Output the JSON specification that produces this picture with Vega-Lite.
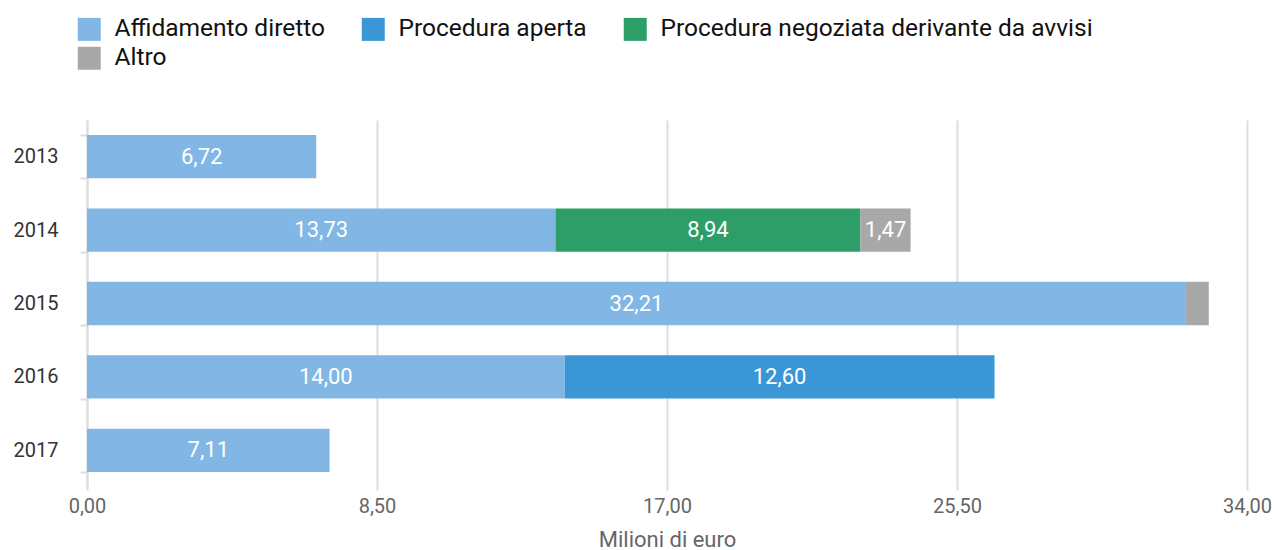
{
  "$schema": "https://vega.github.io/schema/vega-lite/v6.json",
  "width": 1160,
  "height": 367,
  "autosize": "none",
  "padding": {"left": 87, "top": 120, "right": 27, "bottom": 63},
  "background": "white",
  "config": {
    "locale": {"number": {"decimal": ",", "thousands": ".", "grouping": [3], "currency": ["€", ""]}},
    "font": "Roboto",
    "view": {"stroke": null}
  },
  "data": {
    "values": [
      {"anno": "2013", "tipo": "Affidamento diretto", "ordine": 1, "valore": 6.72},
      {"anno": "2014", "tipo": "Affidamento diretto", "ordine": 1, "valore": 13.73},
      {"anno": "2014", "tipo": "Procedura negoziata derivante da avvisi", "ordine": 3, "valore": 8.94},
      {"anno": "2014", "tipo": "Altro", "ordine": 4, "valore": 1.47},
      {"anno": "2015", "tipo": "Affidamento diretto", "ordine": 1, "valore": 32.21},
      {"anno": "2015", "tipo": "Altro", "ordine": 4, "valore": 0.67},
      {"anno": "2016", "tipo": "Affidamento diretto", "ordine": 1, "valore": 14.00},
      {"anno": "2016", "tipo": "Procedura aperta", "ordine": 2, "valore": 12.60},
      {"anno": "2017", "tipo": "Affidamento diretto", "ordine": 1, "valore": 7.11}
    ]
  },
  "encoding": {
    "y": {
      "field": "anno", "type": "nominal", "sort": ["2013", "2014", "2015", "2016", "2017"],
      "scale": {"paddingInner": 0.41, "paddingOuter": 0.205},
      "axis": {
        "title": null, "grid": false, "domainColor": "#dddddd", "domainWidth": 2,
        "tickColor": "#dddddd", "tickWidth": 2, "tickSize": 7, "tickBand": "extent",
        "labelFont": "Roboto", "labelFontSize": 20, "labelFontWeight": "normal", "labelColor": "#333333",
        "labelPadding": 22
      }
    },
    "x": {
      "field": "valore", "type": "quantitative", "stack": "zero",
      "scale": {"domain": [0, 34], "nice": false},
      "axis": {
        "title": "Milioni di euro", "titleFont": "Roboto", "titleFontSize": 22, "titleFontWeight": "normal",
        "titleColor": "#666666", "titlePadding": 13,
        "values": [0, 8.5, 17, 25.5, 34], "format": ".2f", "labelFlush": false,
        "labelFont": "Roboto", "labelFontSize": 20, "labelColor": "#666666", "labelPadding": 6,
        "domain": false, "ticks": true, "tickColor": "#dddddd", "tickWidth": 2, "tickSize": 3,
        "grid": true, "gridColor": "#dddddd", "gridWidth": 2
      }
    },
    "order": {"field": "ordine", "type": "quantitative"}
  },
  "layer": [
    {
      "mark": {"type": "bar"},
      "encoding": {
        "color": {
          "field": "tipo", "type": "nominal",
          "scale": {
            "domain": ["Affidamento diretto", "Procedura aperta", "Procedura negoziata derivante da avvisi", "Altro"],
            "range": ["#82b7e5", "#3a96d5", "#2e9e68", "#a8a8a8"]
          },
          "legend": {
            "title": null, "orient": "none", "legendX": -10, "legendY": -103,
            "direction": "horizontal", "columns": 3, "columnPadding": 36, "rowPadding": 4,
            "symbolType": "square", "symbolSize": 529, "symbolStrokeWidth": 0, "symbolOpacity": 1,
            "labelFont": "Roboto", "labelFontSize": 24.5, "labelColor": "#111111", "labelOffset": 13,
            "labelLimit": 600
          }
        }
      }
    },
    {
      "transform": [{"filter": "datum.valore >= 1"}],
      "mark": {"type": "text", "color": "white", "fontSize": 22, "font": "Roboto", "align": "center", "baseline": "middle"},
      "encoding": {
        "x": {"field": "valore", "type": "quantitative", "stack": "zero", "bandPosition": 0.5},
        "text": {"field": "valore", "type": "quantitative", "format": ".2f"}
      }
    }
  ]
}
